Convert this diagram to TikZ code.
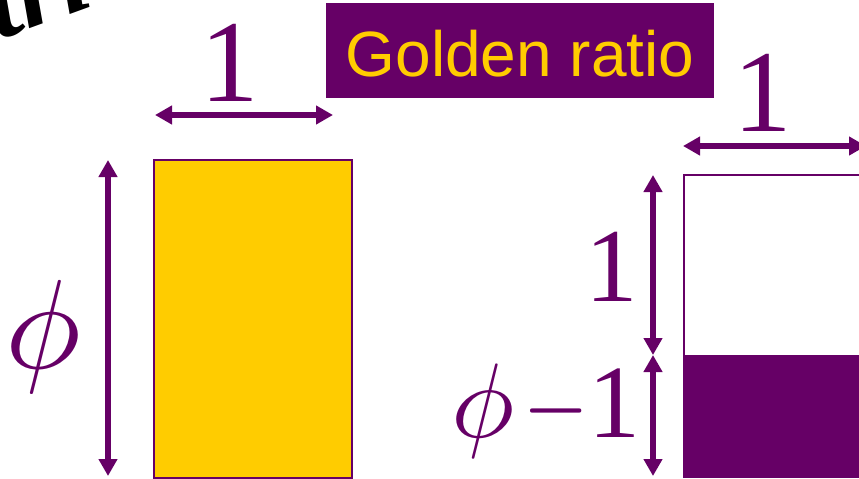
\documentclass[tikz,border=0pt]{standalone}
\usepackage{fontspec}
\setmainfont{Liberation Serif}
\newfontfamily\arialf{Liberation Sans}
\usetikzlibrary{arrows.meta}
\definecolor{plum}{HTML}{660066}
\definecolor{gold}{HTML}{FFCC00}
\begin{document}
\begin{tikzpicture}[x=1pt,y=-1pt,
  dim/.style={draw=plum,line width=5.5pt,{Triangle[width=18pt,length=17pt]}-{Triangle[width=18pt,length=17pt]}},
  lbl/.style={text=plum,inner sep=0pt,anchor=base}]
\useasboundingbox (0,0) rectangle (859,479);
\clip (0,0) rectangle (859,479);
% cut-off title text
\node[rotate=20,anchor=base east,inner sep=0pt,font=\fontsize{110}{110}\selectfont\bfseries\itshape] (ttl) at (142,-12) {tric};
% golden ratio box
\node[fill=plum,minimum width=388pt,minimum height=95pt,inner sep=0pt] (gbox) at (520,50.5) {};
\node[text=gold,inner sep=0pt,anchor=base,font=\arialf\fontsize{64}{64}\selectfont] (gtxt) at (520,76) {Golden ratio};
% left rectangle
\node[draw=plum,fill=gold,line width=2pt,minimum width=198pt,minimum height=318pt,inner sep=0pt,anchor=north west] (lrect) at (153,159) {};
\coordinate (lv1) at (108,160);
\coordinate (lv2) at (108,476);
\coordinate (lh1) at (155,115);
\coordinate (lh2) at (333,115);
\draw[dim] (lv1) -- (lv2);
\draw[dim] (lh1) -- (lh2);
\node[lbl,font=\fontsize{117}{117}\selectfont] (lone) at (230,101) {1};
\node[lbl] (lphi) at (43,368) {\scalebox{12.7}{$\phi$}};
% right rectangle
\node[draw=plum,fill=white,line width=1.5pt,minimum width=200pt,minimum height=181pt,inner sep=0pt,anchor=north west] (rtop) at (683,174) {};
\node[fill=plum,minimum width=200pt,minimum height=123pt,inner sep=0pt,anchor=north west] (rbot) at (683,355) {};
\coordinate (rh1) at (683,146);
\coordinate (rh2) at (866,146);
\coordinate (rv1) at (653,175);
\coordinate (rvm) at (653,355);
\coordinate (rv2) at (653,476);
\draw[dim] (rh1) -- (rh2);
\draw[dim] (rv1) -- (rvm);
\draw[dim] (rvm) -- (rv2);
\node[lbl,font=\fontsize{117}{117}\selectfont] (rone) at (763,131) {1};
\node[lbl,font=\fontsize{105}{105}\selectfont] (rone2) at (612,301) {1};
\node[lbl] (rphi) at (483,437) {\scalebox{10.6}{$\phi$}};
\node[lbl] (rminus) at (556,437) {\scalebox{8.4}[10.6]{$-$}};
\node[lbl,font=\fontsize{104}{104}\selectfont] (rone3) at (614,437) {1};
\end{tikzpicture}
\end{document}
